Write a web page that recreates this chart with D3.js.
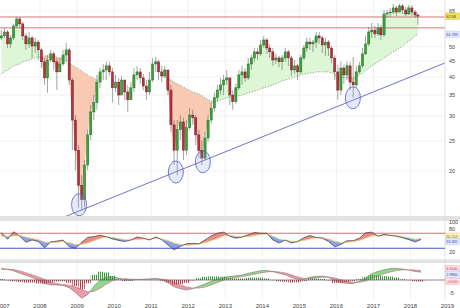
<!DOCTYPE html>
<html>
<head>
<meta charset="utf-8">
<script src="https://cdn.jsdelivr.net/npm/d3@7"></script>
<style>
body{margin:0;background:#fff}
svg{display:block;font-family:"Liberation Sans",Arial,sans-serif}
</style>
</head>
<body>
<div id="chart"></div>
<script>
// monthly candles, Dec 2006 .. Mar 2018
var openP = [53.3,54.1,55.7,51.0,53.3,58.2,61.3,59.1,54.1,51.0,
  53.3,50.2,51.7,48.8,44.7,39.7,45.3,47.4,44.7,41.5,
  44.0,47.0,48.8,39.1,29.1,23.3,18.0,16.2,20.9,26.1,
  30.9,33.1,38.5,41.5,42.1,43.4,41.5,36.9,38.5,35.0,
  39.1,35.8,33.8,36.9,40.6,41.5,39.7,37.4,35.8,39.1,
  44.0,44.7,41.5,40.3,42.1,36.3,28.1,23.3,27.1,28.7,
  23.3,27.5,30.2,29.6,26.1,23.3,22.0,25.5,29.1,31.8,
  34.3,36.3,37.7,39.1,39.7,35.0,33.3,36.9,40.6,41.5,
  39.7,44.0,46.0,48.1,47.4,50.6,52.5,49.5,48.1,45.3,
  46.0,44.7,46.0,48.1,46.0,42.1,43.4,41.5,46.0,49.5,
  51.7,51.0,51.7,54.1,53.3,50.6,51.7,49.5,46.0,41.5,
  36.3,42.7,40.6,43.4,38.5,37.7,41.5,43.4,47.4,51.0,
  55.7,56.5,54.9,57.4,54.5,63.6,64.1,64.5,66.5,64.5,
  67.5,65.5,63.6,66.5,64.5,63.1];
var highP = [56.5,57.4,56.5,54.5,59.1,62.2,62.2,60.0,55.3,55.7,
  54.1,53.3,52.5,49.5,46.0,47.0,48.8,48.1,46.0,46.0,
  48.8,51.3,49.5,39.7,30.2,24.2,19.4,21.7,27.1,32.5,
  35.0,40.6,42.7,44.0,44.7,44.7,42.7,40.6,39.7,40.3,
  39.1,37.7,38.5,42.7,43.4,42.7,40.9,39.1,41.5,46.0,
  46.3,45.3,43.4,43.4,42.1,37.7,29.1,29.1,30.2,29.6,
  29.1,31.8,31.4,30.2,27.1,25.1,26.7,30.2,33.1,35.6,
  37.7,39.7,40.6,42.1,39.7,36.3,38.0,42.1,43.4,42.7,
  46.0,47.0,49.5,49.5,52.5,54.1,53.3,51.0,49.5,47.4,
  46.7,47.0,49.5,48.8,46.7,45.3,44.0,47.0,50.6,53.3,
  53.3,52.5,55.7,55.7,54.1,53.3,52.5,50.2,47.0,43.7,
  44.7,43.7,44.7,44.7,46.3,43.4,44.7,49.5,54.1,57.8,
  59.5,58.2,59.5,58.7,65.5,65.5,66.5,68.5,67.5,68.5,
  68.5,67.0,68.0,68.0,65.5,64.1];
var lowP = [52.5,53.3,49.5,49.5,52.5,57.4,57.4,52.5,48.8,49.5,
  46.0,47.7,45.3,42.7,37.7,35.6,44.7,42.1,36.3,41.5,
  43.4,44.7,37.7,23.3,20.1,15.3,15.0,15.3,20.1,25.1,
  29.1,31.4,36.9,39.1,39.1,40.3,33.1,35.8,32.5,35.0,
  33.8,30.9,33.8,35.8,39.1,38.0,36.3,33.8,35.0,38.5,
  41.5,39.1,38.5,39.7,35.0,26.7,20.9,19.4,25.1,21.7,
  22.5,27.1,28.1,24.2,22.0,20.9,21.7,24.8,28.3,30.9,
  33.3,35.0,35.0,37.7,32.5,31.4,32.8,36.3,37.7,38.5,
  39.1,42.1,44.7,45.3,46.7,49.5,47.4,46.0,43.4,44.0,
  43.0,42.1,44.7,43.4,40.3,40.9,39.1,40.9,45.3,48.1,
  48.8,48.1,49.5,51.0,47.7,46.7,46.7,44.3,39.1,33.8,
  35.0,38.0,39.1,36.3,34.3,36.9,40.9,42.7,47.0,50.2,
  53.3,53.3,54.1,52.5,53.7,61.8,62.2,63.6,62.7,64.5,
  63.6,62.7,63.1,62.7,61.8,58.7];
var closeP = [54.1,55.7,51.0,53.3,58.2,61.3,59.1,54.1,51.0,53.3,
  50.2,51.7,48.8,44.7,39.7,45.3,47.4,44.7,41.5,44.0,
  47.0,48.8,39.1,29.1,23.3,18.0,16.2,20.9,26.1,30.9,
  33.1,38.5,41.5,42.1,43.4,41.5,36.9,38.5,35.0,39.1,
  35.8,33.8,36.9,40.6,41.5,39.7,37.4,35.8,39.1,44.0,
  44.7,41.5,40.3,42.1,36.3,28.1,23.3,27.1,28.7,23.3,
  27.5,30.2,29.6,26.1,23.3,22.0,25.5,29.1,31.8,34.3,
  36.3,37.7,39.1,39.7,35.0,33.3,36.9,40.6,41.5,39.7,
  44.0,46.0,48.1,47.4,50.6,52.5,49.5,48.1,45.3,46.0,
  44.7,46.0,48.1,46.0,42.1,43.4,41.5,46.0,49.5,51.7,
  51.0,51.7,54.1,53.3,50.6,51.7,49.5,46.0,41.5,36.3,
  42.7,40.6,43.4,38.5,37.7,41.5,43.4,47.4,51.0,55.7,
  56.5,54.9,57.4,54.5,63.6,64.1,64.5,66.5,64.5,67.5,
  65.5,63.6,66.5,64.5,63.1,62.58];
// moving average (dotted), not shown in 2009-2010
var maP = [40.9,41.5,42.1,42.7,43.4,43.7,44.0,44.7,45.0,45.3,
  45.7,46.0,46.3,46.3,46.7,46.7,46.7,46.7,46.3,46.0,
  45.7,45.0,44.3,43.7,43.0,42.4,41.8,41.2,40.6,40.0,
  39.7,39.1,38.8,null,null,null,null,null,null,null,
  null,null,null,null,null,null,null,null,null,null,
  null,null,40.0,40.0,39.7,39.1,38.5,38.0,37.7,37.1,
  36.6,36.3,35.8,35.6,35.3,34.8,34.3,33.8,33.5,33.3,
  33.5,33.8,34.0,34.3,34.5,34.5,34.5,34.8,35.0,35.3,
  35.6,35.8,36.1,36.3,36.6,36.9,37.1,37.4,37.7,38.0,
  38.5,38.8,39.1,39.4,39.7,40.0,40.3,40.6,40.9,40.9,
  41.2,41.2,41.5,41.5,41.5,41.5,41.5,41.2,40.9,40.3,
  40.0,39.7,39.7,39.7,39.7,40.0,40.6,41.2,41.8,42.7,
  43.4,44.0,44.7,45.3,46.0,46.7,47.4,48.1,48.8,49.5,
  50.2,51.3,52.1,52.9,54.1,54.789];

// indicators, every second month from Dec 2006
var rsiV = [72,54,74,62,46,52,48,31,47,49,
  52,34,30,46,59,61,65,61,55,51,
  48,52,60,57,52,60,53,39,26,35,
  42,43,42,52,63,70,73,62,57,60,
  66,72,70,70,52,44,52,44,48,58,
  64,59,57,48,34,40,50,50,57,71,
  73,62,67,64,62,58,53,47,53.382];
var rsiSig = [62,62,63,64,60,56,53,47,45,46,
  48,45,40,40,44,50,56,60,59,56,
  53,52,53,55,55,56,55,51,44,40,
  38,39,41,45,50,56,63,64,62,60,
  61,64,67,68,62,55,51,49,48,51,
  55,58,58,55,49,45,46,48,51,57,
  63,64,65,65,64,61,58,54,56.204];
var macdV = [4.5,4.1,3.5,2.6,1.8,1.0,-0.2,-1.3,-1.9,-1.9,
  -2.1,-3.0,-4.8,-7.0,-5.6,-2.4,0,1.2,1.3,0.7,
  0.1,0,0.2,0.3,0.4,0.6,0.1,-1.0,-2.6,-3.4,
  -3.8,-3.3,-2.4,-1.5,-0.5,0.4,1.1,1.3,1.6,1.9,
  2.6,3.1,3.6,3.7,3.2,2.6,2.0,1.0,0.3,0.2,
  1.1,1.4,1.5,1.0,-0.3,-1.0,-1.3,-1.3,-0.5,0.8,
  2.4,3.3,3.9,4.4,4.5,4.2,3.8,3.3,2.996];
var macdSig = [4.0,4.2,4.0,3.5,2.8,2.0,1.2,0.2,-0.8,-1.4,
  -1.7,-2.0,-2.6,-3.6,-4.5,-4.4,-3.2,-1.6,-0.3,0.4,
  0.5,0.3,0.2,0.2,0.3,0.4,0.4,0,-0.8,-1.8,
  -2.7,-3.1,-3.1,-2.7,-1.9,-1.0,-0.1,0.6,1.0,1.3,
  1.7,2.2,2.7,3.1,3.3,3.1,2.7,2.0,1.2,0.6,
  0.5,0.8,1.1,1.2,0.8,0.1,-0.5,-0.9,-0.9,-0.4,
  0.5,1.5,2.4,3.1,3.6,3.9,3.9,3.8,3.61];
var histV = [0.4,-0.2,-0.5,-0.8,-1.0,-1.0,-1.3,-1.5,-1.1,-0.6,
  -0.5,-1.1,-2.3,-3.5,-1.2,2.0,3.2,2.9,1.6,0.3,
  -0.4,-0.3,0,0.1,0.1,0.2,-0.3,-1.0,-1.8,-1.6,
  -1.1,-0.2,0.7,1.2,1.4,1.4,1.2,0.7,0.6,0.6,
  0.9,0.9,0.9,0.6,-0.1,-0.5,-0.7,-1.0,-0.9,-0.4,
  0.6,0.6,0.4,-0.2,-1.1,-1.1,-0.8,-0.4,0.4,1.2,
  1.9,1.8,1.5,1.3,0.9,0.3,-0.1,-0.5,-0.614];

// annotations
var levels = [62.2, 57.4];
var trendDates = ["2008-08-03", "2018-12-05"];
var trendPrices = [14.15, 44.3];
var lowDates = ["2009-01-20", "2011-09-01", "2012-05-25", "2016-06-12"];
var lowPrices = [15.6, 19.85, 21.4, 34.3];
var priceTicks = [20, 25, 30, 35, 40, 45, 50, 65];
var rsiTicks = [100, 80, 20];
var macdTicks = [-5];
var years = d3.range(2007, 2020);

var W = 460, H = 308, plotR = 445;
var pTop = 0, pBot = 216, rTop = 221, rBot = 259.5, mTop = 263, mBot = 299;

var svg = d3.select("#chart").append("svg").attr("width", W).attr("height", H);
svg.append("rect").attr("width", W).attr("height", H).attr("fill", "#fff");
var defs = svg.append("defs");

var x = d3.scaleTime().domain([new Date(2007, 0, 1), new Date(2018, 0, 1)]).range([3, 410.5]);
var y = d3.scaleLog().domain([20, 65]).range([171, 11]);
var yR = d3.scaleLinear().domain([0, 100]).range([259.5, 222]);
var yM = d3.scaleLinear().domain([-5, 0]).range([293, 280]);

var candles = closeP.map(function(c, i) {
  return {d: new Date(2006, 11 + i, 15), o: openP[i], h: highP[i], l: lowP[i], c: c, m: maP[i]};
});
var ind = rsiV.map(function(r, i) {
  return {d: new Date(2006, 11 + 2 * i, 15), r: r, rs: rsiSig[i], m: macdV[i], ms: macdSig[i], h: histV[i]};
});

function clipRect(id, y0, y1) {
  defs.append("clipPath").attr("id", id).append("rect")
    .attr("x", 0).attr("y", y0).attr("width", plotR).attr("height", y1 - y0);
}
clipRect("cp", pTop, pBot);
clipRect("cr", rTop, rBot);
clipRect("cm", mTop, mBot);

// vertical grid (year starts)
svg.append("g").selectAll("line").data(years.slice(1, 12)).enter().append("line")
  .attr("x1", function(d) { return x(new Date(d, 0, 1)); })
  .attr("x2", function(d) { return x(new Date(d, 0, 1)); })
  .attr("y1", 0).attr("y2", mBot)
  .attr("stroke", "#ececec").attr("stroke-width", 0.8);

// horizontal grid in price panel
svg.append("g").selectAll("line").data(priceTicks).enter().append("line")
  .attr("x1", 0).attr("x2", plotR)
  .attr("y1", function(d) { return y(d); }).attr("y2", function(d) { return y(d); })
  .attr("stroke", "#efefef").attr("stroke-width", 0.8);

// ---- price panel ----
var gp = svg.append("g").attr("clip-path", "url(#cp)");

var hasMa = function(d) { return d.m != null; };
var aboveMa = d3.area().defined(hasMa).x(function(d) { return x(d.d); }).y0(pTop).y1(function(d) { return y(d.m); });
var belowMa = d3.area().defined(hasMa).x(function(d) { return x(d.d); }).y0(pBot).y1(function(d) { return y(d.m); });
var between = d3.area().defined(hasMa).x(function(d) { return x(d.d); })
  .y0(function(d) { return y(d.m); }).y1(function(d) { return y(d.c); });

defs.append("clipPath").attr("id", "maUp").append("path").attr("d", aboveMa(candles));
defs.append("clipPath").attr("id", "maDn").append("path").attr("d", belowMa(candles));

gp.append("path").attr("d", between(candles)).attr("fill", "#dcf6d6").attr("clip-path", "url(#maUp)");
gp.append("path").attr("d", between(candles)).attr("fill", "#f9c9b3").attr("clip-path", "url(#maDn)");

gp.append("path")
  .attr("d", d3.line().defined(hasMa).x(function(d) { return x(d.d); }).y(function(d) { return y(d.m); })(candles))
  .attr("fill", "none").attr("stroke", "#6da86d").attr("stroke-width", 0.9).attr("stroke-dasharray", "1.2,1.6");

gp.selectAll(".lvl").data(levels).enter().append("line")
  .attr("x1", 0).attr("x2", plotR)
  .attr("y1", function(d) { return y(d); }).attr("y2", function(d) { return y(d); })
  .attr("stroke", "#c86a6a").attr("stroke-width", 0.9);

gp.append("line")
  .attr("x1", x(new Date(trendDates[0]))).attr("y1", y(trendPrices[0]))
  .attr("x2", x(new Date(trendDates[1]))).attr("y2", y(trendPrices[1]))
  .attr("stroke", "#7474cc").attr("stroke-width", 1);

var cg = gp.append("g").selectAll("g").data(candles).enter().append("g");
cg.append("line")
  .attr("x1", function(d) { return x(d.d); }).attr("x2", function(d) { return x(d.d); })
  .attr("y1", function(d) { return y(d.h); }).attr("y2", function(d) { return y(d.l); })
  .attr("stroke", "#666").attr("stroke-width", 0.6);
cg.append("rect")
  .attr("x", function(d) { return x(d.d) - 1.1; })
  .attr("width", 2.2)
  .attr("y", function(d) { return y(Math.max(d.o, d.c)); })
  .attr("height", function(d) { return Math.max(0.7, Math.abs(y(d.o) - y(d.c))); })
  .attr("fill", function(d) { return d.c >= d.o ? "#35a535" : "#b3303d"; })
  .attr("stroke", function(d) { return d.c >= d.o ? "#1c601c" : "#6a1820"; })
  .attr("stroke-width", 0.4);

gp.selectAll(".low").data(lowDates).enter().append("ellipse")
  .attr("cx", function(d) { return x(new Date(d)); })
  .attr("cy", function(d, i) { return y(lowPrices[i]); })
  .attr("rx", 7.5).attr("ry", 11)
  .attr("fill", "rgba(130,150,235,0.2)").attr("stroke", "#4f60c8").attr("stroke-width", 0.8);

// panel separators
svg.append("rect").attr("x", 0).attr("y", pBot).attr("width", W).attr("height", rTop - pBot).attr("fill", "#e2e2e2");
svg.append("rect").attr("x", 0).attr("y", rBot).attr("width", W).attr("height", mTop - rBot).attr("fill", "#e2e2e2");
svg.append("line").attr("x1", plotR).attr("x2", plotR).attr("y1", 0).attr("y2", mBot)
  .attr("stroke", "#d8d8d8").attr("stroke-width", 0.8);

// ---- RSI panel ----
var gr = svg.append("g").attr("clip-path", "url(#cr)");
defs.append("clipPath").attr("id", "rUp").append("path")
  .attr("d", d3.area().x(function(d) { return x(d.d); }).y0(rTop).y1(function(d) { return yR(d.rs); })(ind));
defs.append("clipPath").attr("id", "rDn").append("path")
  .attr("d", d3.area().x(function(d) { return x(d.d); }).y0(rBot).y1(function(d) { return yR(d.rs); })(ind));
var rArea = d3.area().x(function(d) { return x(d.d); })
  .y0(function(d) { return yR(d.rs); }).y1(function(d) { return yR(d.r); });
gr.append("path").attr("d", rArea(ind)).attr("fill", "#ec8a86").attr("clip-path", "url(#rUp)");
gr.append("path").attr("d", rArea(ind)).attr("fill", "#8d9ff0").attr("clip-path", "url(#rDn)");
gr.append("line").attr("x1", 0).attr("x2", plotR).attr("y1", yR(70)).attr("y2", yR(70))
  .attr("stroke", "#c86464").attr("stroke-width", 0.9);
gr.append("line").attr("x1", 0).attr("x2", plotR).attr("y1", yR(30)).attr("y2", yR(30))
  .attr("stroke", "#4a5ac8").attr("stroke-width", 1);
gr.append("path").attr("d", d3.line().x(function(d) { return x(d.d); }).y(function(d) { return yR(d.rs); })(ind))
  .attr("fill", "none").attr("stroke", "#e8d27a").attr("stroke-width", 0.9);
gr.append("path").attr("d", d3.line().x(function(d) { return x(d.d); }).y(function(d) { return yR(d.r); })(ind))
  .attr("fill", "none").attr("stroke", "#3a3a3a").attr("stroke-width", 0.7);

// ---- MACD panel ----
var gm = svg.append("g").attr("clip-path", "url(#cm)");
function stripes(id, color) {
  var p = defs.append("pattern").attr("id", id).attr("width", 2).attr("height", 4)
    .attr("patternUnits", "userSpaceOnUse");
  p.append("rect").attr("width", 1).attr("height", 4).attr("fill", color);
}
stripes("stG", "#2f9a2f");
stripes("stR", "#c03a4a");

defs.append("clipPath").attr("id", "mUp").append("path")
  .attr("d", d3.area().x(function(d) { return x(d.d); }).y0(mTop).y1(function(d) { return yM(d.ms); })(ind));
defs.append("clipPath").attr("id", "mDn").append("path")
  .attr("d", d3.area().x(function(d) { return x(d.d); }).y0(mBot).y1(function(d) { return yM(d.ms); })(ind));
var mArea = d3.area().x(function(d) { return x(d.d); })
  .y0(function(d) { return yM(d.ms); }).y1(function(d) { return yM(d.m); });
gm.append("path").attr("d", mArea(ind)).attr("fill", "#8fd88a").attr("clip-path", "url(#mUp)");
gm.append("path").attr("d", mArea(ind)).attr("fill", "#eb9aa6").attr("clip-path", "url(#mDn)");

gm.selectAll(".hb").data(ind).enter().append("rect")
  .attr("x", function(d) { return x(d.d) - 3.1; })
  .attr("width", 6.2)
  .attr("y", function(d) { return Math.min(yM(0), yM(d.h)); })
  .attr("height", function(d) { return Math.abs(yM(d.h) - yM(0)); })
  .attr("fill", function(d) { return d.h >= 0 ? "url(#stG)" : "url(#stR)"; });

gm.append("line").attr("x1", 0).attr("x2", plotR).attr("y1", yM(0)).attr("y2", yM(0))
  .attr("stroke", "#555").attr("stroke-width", 0.7);
gm.append("path").attr("d", d3.line().x(function(d) { return x(d.d); }).y(function(d) { return yM(d.ms); })(ind))
  .attr("fill", "none").attr("stroke", "#b86a78").attr("stroke-width", 0.6);
gm.append("path").attr("d", d3.line().x(function(d) { return x(d.d); }).y(function(d) { return yM(d.m); })(ind))
  .attr("fill", "none").attr("stroke", "#777").attr("stroke-width", 0.6);

// ---- axis labels ----
var fs = 5.5;
function tickLabels(ticks, scale) {
  svg.append("g").selectAll("text").data(ticks).enter().append("text")
    .attr("x", 449).attr("y", function(d) { return scale(d); }).attr("dy", "0.35em")
    .attr("font-size", fs).attr("fill", "#444").text(function(d) { return d; });
}
tickLabels(priceTicks, y);
tickLabels(rsiTicks, yR);
tickLabels(macdTicks, yM);

function valueBoxes(items) {
  items.sort(function(a, b) { return a.y - b.y; });
  for (var k = 0; k < 10; k++) {
    for (var i = 1; i < items.length; i++) {
      var gap = items[i].y - items[i - 1].y;
      if (gap < 5.6) { items[i - 1].y -= (5.6 - gap) / 2; items[i].y += (5.6 - gap) / 2; }
    }
  }
  items.forEach(function(b) {
    svg.append("rect").attr("x", 445.5).attr("y", b.y - 3.2).attr("width", 14).attr("height", 6.4)
      .attr("fill", b.bg).attr("stroke", b.border).attr("stroke-width", 0.4);
    svg.append("text").attr("x", 446.3).attr("y", b.y).attr("dy", "0.35em")
      .attr("font-size", 4.4).attr("fill", b.fg)
      .attr("textLength", Math.min(11.6, b.t.length * 1.9)).attr("lengthAdjust", "spacingAndGlyphs")
      .text(b.t);
  });
}
var lastC = candles[candles.length - 1], lastI = ind[ind.length - 1];
valueBoxes([
  {y: y(lastC.c), t: lastC.c.toFixed(2), bg: "#f3e35c", border: "#c9b125", fg: "#333"},
  {y: y(lastC.m), t: lastC.m.toFixed(3), bg: "#dfe7ff", border: "#b8c6f0", fg: "#3a50c0"}
]);
valueBoxes([
  {y: yR(lastI.rs), t: lastI.rs.toFixed(3), bg: "#f8f0c4", border: "#e0d080", fg: "#8a7a20"},
  {y: yR(lastI.r), t: lastI.r.toFixed(3), bg: "#dfe7ff", border: "#b8c6f0", fg: "#3a50c0"}
]);
valueBoxes([
  {y: yM(lastI.ms), t: lastI.ms.toFixed(4), bg: "#fde6e8", border: "#e0a0a8", fg: "#c03040"},
  {y: yM(lastI.m), t: lastI.m.toFixed(4), bg: "#e6eafd", border: "#a8b4e8", fg: "#3040c0"},
  {y: yM(lastI.h), t: lastI.h.toFixed(4), bg: "#fde6e8", border: "#e0a0a8", fg: "#c03040"}
]);

svg.append("g").selectAll("text").data(years).enter().append("text")
  .attr("x", function(d) { return x(new Date(d, 0, 1)); })
  .attr("y", 306).attr("dy", "0.35em")
  .attr("text-anchor", "middle").attr("font-size", 6).attr("fill", "#444")
  .text(function(d) { return d; });
</script>
</body>
</html>
